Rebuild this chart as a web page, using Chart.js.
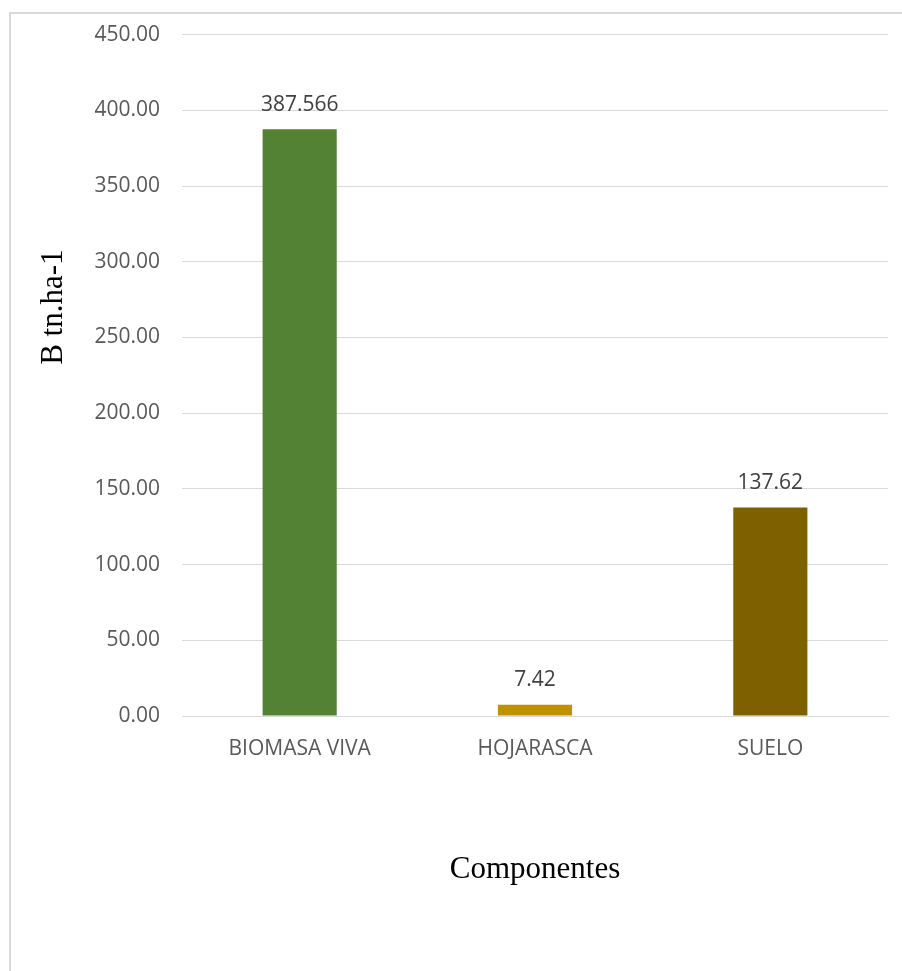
<!DOCTYPE html>
<html>
<head>
<meta charset="utf-8">
<script src="https://cdn.jsdelivr.net/npm/chart.js@4.4.1/dist/chart.umd.min.js"></script>
<style>
  html, body { margin: 0; padding: 0; background: #fff; overflow: hidden; }
  #frame { position: absolute; left: 9px; top: 12px; width: 1000px; height: 1000px;
           border-left: 2px solid #d9d9d9; border-top: 2px solid #d9d9d9; }
  #wrap { position: absolute; left: 0; top: 0; width: 902px; height: 971px; }
</style>
</head>
<body>
<div id="frame"></div>
<div id="wrap"><canvas id="chart"></canvas></div>
<script>
// Componentes de biomasa (B tn.ha-1)
const categories = ['BIOMASA VIVA', 'HOJARASCA', 'SUELO'];
const values = [387.566, 7.42, 137.62];
const valueLabels = ['387.566', '7.42', '137.62'];
const barColors = ['#548235', '#BF9000', '#7F6000'];
const yMin = 0, yMax = 450, yStep = 50;

// value labels above each bar
const barLabels = {
    id: 'barLabels',
    afterDatasetsDraw(chart) {
        const ctx = chart.ctx;
        const meta = chart.getDatasetMeta(0);
        ctx.save();
        ctx.font = '21px "Open Sans", sans-serif';
        ctx.fillStyle = '#404040';
        ctx.textAlign = 'center';
        ctx.textBaseline = 'bottom';
        meta.data.forEach((bar, i) => {
            ctx.fillText(valueLabels[i], bar.x, bar.y - 14);
        });
        ctx.restore();
    }
};

// axis titles in serif, placed like the spreadsheet layout
const axisTitles = {
    id: 'axisTitles',
    afterDraw(chart) {
        const ctx = chart.ctx;
        const area = chart.chartArea;
        ctx.save();
        ctx.fillStyle = '#000';
        ctx.font = '31px "Liberation Serif", serif';
        ctx.textAlign = 'center';
        ctx.textBaseline = 'middle';
        ctx.fillText('Componentes', (area.left + area.right) / 2, area.bottom + 154);
        ctx.translate(54, area.top + (area.bottom - area.top) * 0.4);
        ctx.rotate(-Math.PI / 2);
        ctx.fillText('B tn.ha-1', 0, 0);
        ctx.restore();
    }
};

new Chart(document.getElementById('chart'), {
    type: 'bar',
    data: {
        labels: categories,
        datasets: [{
            data: values,
            backgroundColor: barColors,
            borderWidth: 0,
            barPercentage: 1,
            categoryPercentage: 0.315
        }]
    },
    options: {
        responsive: true,
        maintainAspectRatio: false,
        animation: false,
        layout: { padding: { left: 0, top: 32, right: 14, bottom: 0 } },
        plugins: {
            legend: { display: false },
            tooltip: { enabled: false }
        },
        scales: {
            x: {
                grid: { display: false, drawTicks: false },
                border: { color: '#d9d9d9', width: 1 },
                ticks: {
                    font: { family: '"Open Sans", sans-serif', size: 21 },
                    color: '#595959',
                    padding: 20,
                    maxRotation: 0
                },
                afterFit(scale) { scale.height = 255; }
            },
            y: {
                min: yMin,
                max: yMax,
                grid: { color: '#d9d9d9', lineWidth: 1, drawTicks: false },
                border: { display: false },
                ticks: {
                    stepSize: yStep,
                    font: { family: '"Open Sans", sans-serif', size: 21 },
                    color: '#595959',
                    padding: 22,
                    callback: v => v.toFixed(2)
                },
                afterFit(scale) { scale.width = 182; }
            }
        }
    },
    plugins: [barLabels, axisTitles]
});
</script>
</body>
</html>
